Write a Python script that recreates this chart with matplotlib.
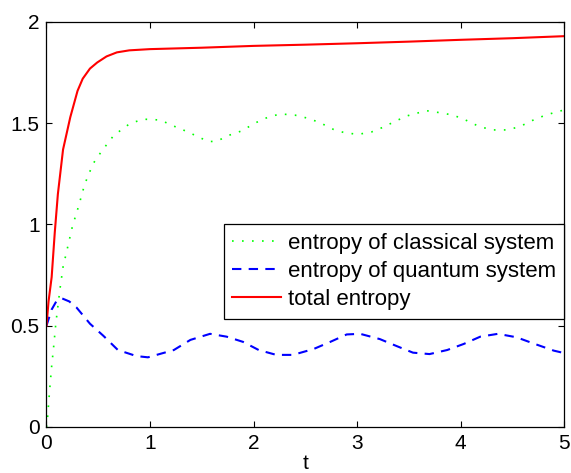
import matplotlib
matplotlib.use("Agg")
import matplotlib.pyplot as plt

plt.rcParams['font.family'] = ['Liberation Sans', 'DejaVu Sans']

# total entropy
t_total = [0, 0.02, 0.05, 0.08, 0.11, 0.16, 0.23, 0.30, 0.35, 0.42, 0.49,
           0.58, 0.68, 0.80, 1.0, 1.5, 2.0, 2.5, 3.0, 3.5, 4.0, 4.5, 5.0]
s_total = [0.50, 0.62, 0.74, 0.96, 1.15, 1.37, 1.53, 1.66, 1.72, 1.77, 1.80,
           1.83, 1.85, 1.86, 1.866, 1.873, 1.882, 1.888, 1.895, 1.903, 1.912,
           1.920, 1.930]

# entropy of classical system
t_class = [0, 0.01, 0.03, 0.05, 0.07, 0.09, 0.13, 0.16, 0.21, 0.25, 0.31,
           0.37, 0.45, 0.53, 0.65, 0.81, 0.94, 1.10, 1.21, 1.32, 1.45, 1.56,
           1.64, 1.76, 1.89, 2.01, 2.14, 2.26, 2.40, 2.53, 2.64, 2.77, 2.88,
           3.01, 3.14, 3.25, 3.37, 3.48, 3.61, 3.67, 3.80, 3.93, 4.06, 4.17,
           4.30, 4.45, 4.57, 4.69, 4.80, 4.93, 5.0]
s_class = [0, 0.043, 0.18, 0.30, 0.40, 0.51, 0.68, 0.79, 0.90, 0.99, 1.09,
           1.20, 1.30, 1.36, 1.44, 1.50, 1.52, 1.516, 1.49, 1.467, 1.437, 1.41,
           1.41, 1.44, 1.463, 1.50, 1.53, 1.546, 1.54, 1.524, 1.503, 1.47,
           1.453, 1.445, 1.457, 1.48, 1.51, 1.536, 1.554, 1.562, 1.552, 1.54,
           1.513, 1.486, 1.467, 1.467, 1.483, 1.513, 1.536, 1.557, 1.565]

# entropy of quantum system
t_quant = [0, 0.05, 0.10, 0.15, 0.22, 0.29, 0.42, 0.55, 0.69, 0.87, 0.98,
           1.23, 1.39, 1.58, 1.74, 1.90, 2.05, 2.22, 2.38, 2.58, 2.74, 2.90,
           3.03, 3.22, 3.38, 3.54, 3.70, 3.87, 4.03, 4.19, 4.36, 4.54, 4.70,
           4.90, 5.0]
s_quant = [0.50, 0.58, 0.625, 0.635, 0.62, 0.59, 0.51, 0.45, 0.38, 0.35,
           0.344, 0.38, 0.43, 0.46, 0.446, 0.42, 0.38, 0.356, 0.356, 0.385,
           0.42, 0.457, 0.46, 0.434, 0.40, 0.367, 0.36, 0.38, 0.41, 0.446,
           0.46, 0.443, 0.413, 0.377, 0.365]

fig = plt.figure(figsize=(5.71, 4.73), dpi=100)
ax = fig.add_axes([0.0814, 0.0973, 0.9066, 0.8562])

ax.plot(t_class, s_class, color=(0, 1, 0), lw=1.2, dashes=(1, 5),
        label="entropy of classical system")
ax.plot(t_quant, s_quant, color=(0, 0, 1), lw=1.5, dashes=(4.5, 3.5),
        label="entropy of quantum system")
ax.plot(t_total, s_total, color=(1, 0, 0), lw=1.5, label="total entropy")

ax.set_xlim(0, 5)
ax.set_ylim(0, 2)
ax.set_xticks([0, 1, 2, 3, 4, 5])
ax.set_yticks([0, 0.5, 1, 1.5, 2])
ax.set_yticklabels(["0", "0.5", "1", "1.5", "2"])
ax.tick_params(direction="in", top=True, right=True, length=4, width=0.8,
               labelsize=15, pad=5)
for sp in ax.spines.values():
    sp.set_linewidth(0.9)
ax.set_xlabel("t", fontsize=15, labelpad=1)

leg = ax.legend(loc="upper right", bbox_to_anchor=(1.0, 0.501),
                borderaxespad=0, fontsize=16, fancybox=False,
                framealpha=1, edgecolor="black", handlelength=2.2,
                handletextpad=0.3, labelspacing=0.33, borderpad=0.38)
leg.get_frame().set_linewidth(0.9)

fig.savefig("out.png", dpi=100)
